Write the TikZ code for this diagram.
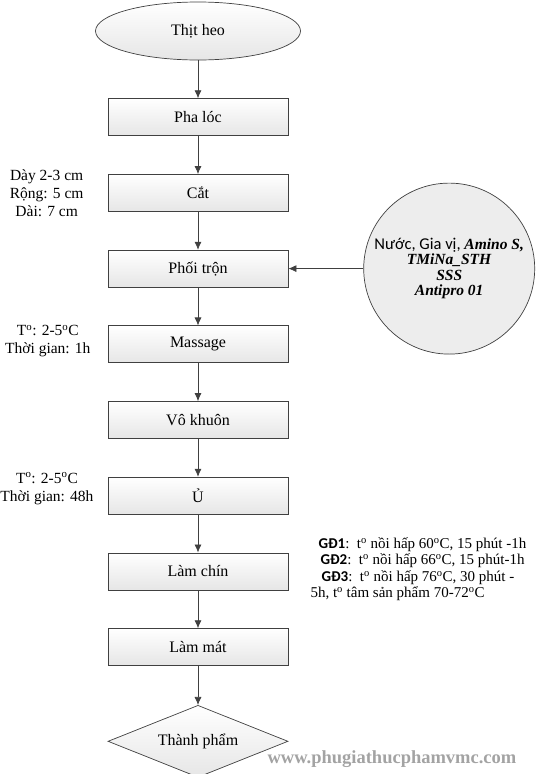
\documentclass[tikz,border=0pt]{standalone}
\usepackage{fontspec}
\setmainfont{Liberation Serif}
\newfontfamily\vmcsans{Carlito}
\usepackage{tikz}
\usetikzlibrary{arrows.meta,positioning,shapes.geometric}
\definecolor{VmcLine}{HTML}{404040}
\definecolor{VmcFill}{HTML}{E6E6E6}
\definecolor{VmcMark}{HTML}{A3A3A3}
\newcommand{\vmcbody}{\fontsize{16}{18}\selectfont}
\newcommand{\vmcside}{\fontsize{15.5}{18}\selectfont}
\newcommand{\vmcsmall}{\fontsize{15}{16.5}\selectfont}
\newcommand{\dego}{\textsuperscript{o}}
\begin{document}
\begin{tikzpicture}[
  x=1pt,y=1pt,
  node distance=38pt,
  stepbox/.style={draw=VmcLine,line width=0.7pt,top color=white,bottom color=VmcFill,minimum width=180pt,minimum height=37pt,align=center,font=\vmcbody},
  startnode/.style={ellipse,draw=VmcLine,line width=0.7pt,top color=white,bottom color=VmcFill,minimum width=205pt,minimum height=58pt,font=\vmcbody},
  endnode/.style={diamond,aspect=2.5,inner sep=0pt,draw=VmcLine,line width=0.7pt,top color=white,bottom color=VmcFill,minimum width=180pt,minimum height=72pt,font=\vmcbody},
  addcircle/.style={circle,draw=VmcLine,line width=0.7pt,fill=VmcFill!70,minimum size=171pt,inner sep=0pt,align=center,font={\fontsize{15.5}{15.5}\selectfont}},
  sidenote/.style={align=center,inner sep=0pt,font=\vmcside},
  cooknote/.style={align=left,inner sep=0pt,font=\vmcsmall},
  arrow/.style={-{Latex[length=8pt,width=7pt]},line width=0.7pt,draw=VmcLine}
]
\useasboundingbox (0,0) rectangle (547,-774);
\node[startnode] (thit) at (198,-31) {Thịt heo};
\node[stepbox,below=of thit] (phaloc) {Pha lóc};
\node[stepbox,below=of phaloc] (cat) {Cắt};
\node[stepbox,below=of cat] (phoi) {Phối trộn};
\node[stepbox,below=of phoi] (massage) {Massage};
\node[stepbox,below=of massage] (vokhuon) {Vô khuôn};
\node[stepbox,below=of vokhuon] (u) {Ủ};
\node[stepbox,below=of u] (chin) {Làm chín};
\node[stepbox,below=of chin] (mat) {Làm mát};
\node[endnode,below=39pt of mat] (thanhpham) {Thành phẩm};
% ghi chu hai ben
\node[sidenote,left=24pt of cat] (catnote) {Dày 2-3 cm\\Rộng: 5 cm\\Dài: 7 cm};
\node[sidenote,left=17pt of massage,yshift=3pt] (massagenote) {T\dego: 2-5\dego C\\Thời gian: 1h};
\node[sidenote,left=14pt of u,yshift=7pt] (unote) {T\dego: 2-5\dego C\\Thời gian: 48h};
\node[addcircle,right=75pt of phoi] (phugia) {{\fontsize{16.5}{15.5}\selectfont\vmcsans Nước, Gia vị,} \textbf{\textit{Amino S,}}\\\textbf{\textit{TMiNa\_STH}}\\\textbf{\textit{SSS}}\\\textbf{\textit{Antipro 01}}};
\node[cooknote,right=22pt of chin,yshift=2pt] (chinnote) {\hspace{8pt}{\vmcsans\bfseries GĐ1}:\ \ t\dego\ nồi hấp 60\dego C, 15 phút -1h\\
\hspace{10pt}{\vmcsans\bfseries GĐ2}:\ \ t\dego\ nồi hấp 66\dego C, 15 phút-1h\\
\hspace{11pt}{\vmcsans\bfseries GĐ3}:\ \ t\dego\ nồi hấp 76\dego C, 30 phút -\\
5h, t\dego\ tâm sản phẩm 70-72\dego C};
\node[font={\fontsize{18.5}{20}\selectfont\bfseries},text=VmcMark,inner sep=0pt] (web) at (392,-759) {www.phugiathucphamvmc.com};
\draw[arrow] (thit)--(phaloc); \draw[arrow] (phaloc)--(cat); \draw[arrow] (cat)--(phoi);
\draw[arrow] (phoi)--(massage); \draw[arrow] (massage)--(vokhuon); \draw[arrow] (vokhuon)--(u);
\draw[arrow] (u)--(chin); \draw[arrow] (chin)--(mat); \draw[arrow] (mat)--(thanhpham);
\draw[arrow] (phugia)--(phoi);
\end{tikzpicture}
\end{document}
